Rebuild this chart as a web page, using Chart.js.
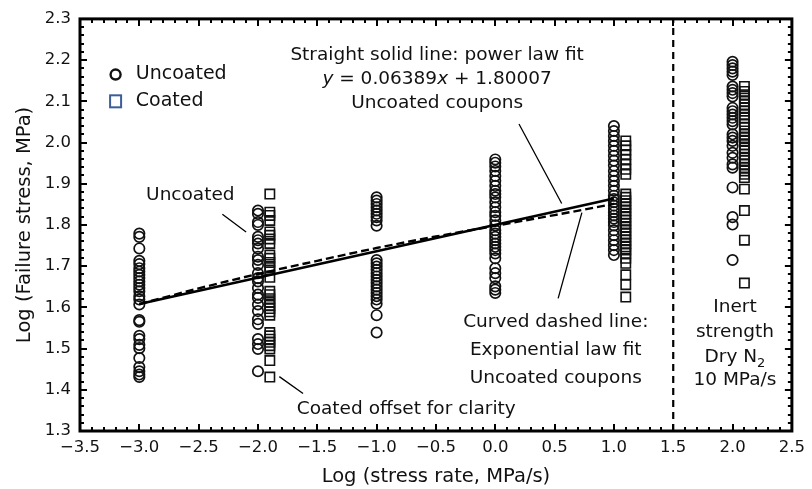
<!DOCTYPE html>
<html><head><meta charset="utf-8">
<script src="https://cdn.jsdelivr.net/npm/chart.js@4.4.0/dist/chart.umd.min.js"></script>
<style>html,body{margin:0;padding:0;background:#fff}canvas{display:block}</style>
</head><body>
<canvas id="c" width="812" height="489"></canvas>
<script>
// ---------- DATA ----------
const seriesNames = ['Uncoated', 'Coated'];
const stressRates = [-3, -2, -1, 0, 1, 2];          // uncoated column positions (log stress rate)
const coatedRates = [-1.9, 1.1, 2.1];              // coated columns (offset for clarity)

const uncoatedAtM3 = [1.779, 1.771, 1.743, 1.713, 1.705, 1.695, 1.687, 1.679, 1.671, 1.663, 1.655, 1.647, 1.639, 1.627, 1.619, 1.607, 1.569, 1.565, 1.531, 1.523, 1.509, 1.501, 1.477, 1.455, 1.445, 1.437, 1.431];
const uncoatedAtM2 = [1.835, 1.827, 1.807, 1.800, 1.771, 1.763, 1.755, 1.743, 1.723, 1.715, 1.703, 1.683, 1.671, 1.663, 1.647, 1.631, 1.623, 1.607, 1.591, 1.571, 1.560, 1.523, 1.511, 1.499, 1.445];
const uncoatedAtM1 = [1.867, 1.859, 1.851, 1.843, 1.835, 1.827, 1.819, 1.811, 1.798, 1.715, 1.707, 1.699, 1.691, 1.683, 1.675, 1.667, 1.659, 1.651, 1.643, 1.635, 1.627, 1.619, 1.609, 1.581, 1.539];
const uncoatedAt0  = [1.959, 1.951, 1.942, 1.931, 1.919, 1.907, 1.895, 1.883, 1.875, 1.867, 1.855, 1.843, 1.831, 1.822, 1.811, 1.799, 1.787, 1.779, 1.771, 1.763, 1.755, 1.747, 1.739, 1.731, 1.719, 1.695, 1.683, 1.671, 1.651, 1.643, 1.635];
const uncoatedAtP1 = [2.040, 2.028, 2.016, 2.004, 1.992, 1.980, 1.968, 1.956, 1.944, 1.931, 1.919, 1.907, 1.895, 1.883, 1.871, 1.863, 1.855, 1.847, 1.839, 1.831, 1.823, 1.815, 1.807, 1.799, 1.787, 1.775, 1.763, 1.751, 1.739, 1.727];
const uncoatedInert = [2.196, 2.188, 2.180, 2.172, 2.164, 2.136, 2.128, 2.120, 2.112, 2.084, 2.076, 2.068, 2.060, 2.052, 2.044, 2.020, 2.012, 2.004, 1.992, 1.975, 1.963, 1.947, 1.939, 1.891, 1.819, 1.801, 1.715];

const coatedAtM2 = [1.875, 1.831, 1.823, 1.811, 1.783, 1.775, 1.766, 1.755, 1.727, 1.719, 1.709, 1.699, 1.691, 1.673, 1.639, 1.631, 1.621, 1.613, 1.605, 1.597, 1.589, 1.581, 1.539, 1.531, 1.523, 1.515, 1.507, 1.499, 1.471, 1.431];
const coatedAtP1 = [2.004, 1.992, 1.982, 1.971, 1.959, 1.947, 1.935, 1.923, 1.875, 1.867, 1.859, 1.851, 1.843, 1.835, 1.827, 1.819, 1.811, 1.803, 1.795, 1.787, 1.779, 1.771, 1.763, 1.755, 1.747, 1.739, 1.731, 1.719, 1.707, 1.679, 1.655, 1.625];
const coatedInert = [2.136, 2.124, 2.116, 2.108, 2.100, 2.092, 2.084, 2.076, 2.068, 2.060, 2.044, 2.036, 2.028, 2.020, 2.012, 2.004, 1.995, 1.987, 1.980, 1.971, 1.963, 1.956, 1.947, 1.939, 1.931, 1.923, 1.915, 1.887, 1.835, 1.763, 1.659];

const uncoatedGroups = [uncoatedAtM3, uncoatedAtM2, uncoatedAtM1, uncoatedAt0, uncoatedAtP1, uncoatedInert];
const coatedGroups = [coatedAtM2, coatedAtP1, coatedInert];

// power-law fit (straight solid line) end points
const powerFitX = [-3, 1];
const powerFitY = [1.608, 1.864];
// exponential-law fit (curved dashed line)
const expFitX = [-3, -2.5, -2, -1.5, -1, -0.5, 0, 0.5, 1];
const expFitY = [1.608, 1.646, 1.681, 1.713, 1.744, 1.772, 1.798, 1.824, 1.851];
// inert-strength separator
const separatorX = [1.5, 1.5];
const separatorY = [1.3, 2.3];

const xTickLabels = ['\u22123.5', '\u22123.0', '\u22122.5', '\u22122.0', '\u22121.5', '\u22121.0', '\u22120.5', '0.0', '0.5', '1.0', '1.5', '2.0', '2.5'];
const yTickLabels = ['1.3', '1.4', '1.5', '1.6', '1.7', '1.8', '1.9', '2.0', '2.1', '2.2', '2.3'];
const xTitle = 'Log (stress rate, MPa/s)';
const yTitle = 'Log (Failure stress, MPa)';

// ---------- BUILD ----------
const uncoatedPts = [];
uncoatedGroups.forEach((g, i) => g.forEach(v => uncoatedPts.push({x: stressRates[i], y: v})));
const coatedPts = [];
coatedGroups.forEach((g, i) => g.forEach(v => coatedPts.push({x: coatedRates[i], y: v})));
const zip = (xs, ys) => xs.map((x, i) => ({x, y: ys[i]}));

const FONT = '"DejaVu Sans", "Liberation Sans", sans-serif';

const annotations = {
  texts: [
    {x: -0.49, y: 2.211, t: 'Straight solid line: power law fit'},
    {x: -0.49, y: 2.096, t: 'Uncoated coupons'},
    {x: 0.51, y: 1.565, t: 'Curved dashed line:'},
    {x: 0.51, y: 1.497, t: 'Exponential law fit'},
    {x: 0.51, y: 1.427, t: 'Uncoated coupons'},
    {x: 2.02, y: 1.601, t: 'Inert'},
    {x: 2.02, y: 1.540, t: 'strength'},
    {x: 2.02, y: 1.423, t: '10 MPa/s'},
    {x: -2.57, y: 1.872, t: 'Uncoated'},
    {x: -0.75, y: 1.353, t: 'Coated offset for clarity'}
  ],
  leaders: [
    [-2.30, 1.826, -2.10, 1.783],
    [-1.82, 1.432, -1.62, 1.391],
    [0.20, 2.045, 0.56, 1.852],
    [0.53, 1.622, 0.73, 1.830]
  ]
};

const decor = {
  id: 'decor',
  afterDatasetsDraw(chart) {
    const {ctx, chartArea: a, scales: {x, y}} = chart;
    ctx.save();
    // inward ticks
    ctx.strokeStyle = '#000';
    ctx.lineWidth = 2;
    ctx.beginPath();
    for (let i = 0; i <= 60; i++) {
      const px = Math.round(x.getPixelForValue(-3.5 + i * 0.1));
      const len = (i % 5 === 0) ? 7 : 4;
      ctx.moveTo(px, a.bottom); ctx.lineTo(px, a.bottom - len);
      ctx.moveTo(px, a.top); ctx.lineTo(px, a.top + len);
    }
    for (let i = 0; i <= 50; i++) {
      const py = Math.round(y.getPixelForValue(1.3 + i * 0.02));
      const len = (i % 5 === 0) ? 7 : 4;
      ctx.moveTo(a.left, py); ctx.lineTo(a.left + len, py);
      ctx.moveTo(a.right, py); ctx.lineTo(a.right - len, py);
    }
    ctx.stroke();
    ctx.lineWidth = 3;
    ctx.strokeRect(a.left, a.top, a.right - a.left, a.bottom - a.top);

    // leader lines
    ctx.lineWidth = 1.3;
    ctx.beginPath();
    annotations.leaders.forEach(l => {
      ctx.moveTo(x.getPixelForValue(l[0]), y.getPixelForValue(l[1]));
      ctx.lineTo(x.getPixelForValue(l[2]), y.getPixelForValue(l[3]));
    });
    ctx.stroke();

    // texts
    ctx.fillStyle = '#111';
    ctx.textAlign = 'center';
    ctx.textBaseline = 'middle';
    ctx.font = '18.5px ' + FONT;
    annotations.texts.forEach(o => ctx.fillText(o.t, x.getPixelForValue(o.x), y.getPixelForValue(o.y)));

    // equation with italic variables
    const segs = [['y', 'italic '], [' = 0.06389', ''], ['x', 'italic '], [' + 1.80007', '']];
    let total = 0;
    segs.forEach(s => { ctx.font = s[1] + '18.5px ' + FONT; s.w = ctx.measureText(s[0]).width; total += s.w; });
    let sx = x.getPixelForValue(-0.49) - total / 2;
    const ey = y.getPixelForValue(2.153);
    ctx.textAlign = 'left';
    segs.forEach(s => { ctx.font = s[1] + '18.5px ' + FONT; ctx.fillText(s[0], sx, ey); sx += s.w; });

    // Dry N2 with subscript
    ctx.font = '18.5px ' + FONT;
    const w1 = ctx.measureText('Dry N').width;
    ctx.font = '13px ' + FONT;
    const w2 = ctx.measureText('2').width;
    let dx = x.getPixelForValue(2.02) - (w1 + w2) / 2;
    const dy = y.getPixelForValue(1.480);
    ctx.font = '18.5px ' + FONT;
    ctx.fillText('Dry N', dx, dy);
    ctx.font = '13px ' + FONT;
    ctx.fillText('2', dx + w1, dy + 7);

    // legend
    const lx = x.getPixelForValue(-3.2);
    const ly1 = y.getPixelForValue(2.165);
    const ly2 = y.getPixelForValue(2.100);
    ctx.lineWidth = 2.4;
    ctx.strokeStyle = '#111';
    ctx.beginPath(); ctx.arc(lx, ly1, 5, 0, Math.PI * 2); ctx.stroke();
    ctx.strokeStyle = '#3b5e99';
    ctx.lineWidth = 2;
    ctx.strokeRect(lx - 5.5, ly2 - 6, 11, 12);
    ctx.font = '19px ' + FONT;
    ctx.fillStyle = '#111';
    ctx.fillText(seriesNames[0], x.getPixelForValue(-3.03), ly1);
    ctx.fillText(seriesNames[1], x.getPixelForValue(-3.03), ly2);
    ctx.restore();
  }
};

new Chart(document.getElementById('c'), {
  type: 'scatter',
  data: {
    datasets: [
      {label: 'Power law fit', type: 'line', data: zip(powerFitX, powerFitY), borderColor: '#000', borderWidth: 2.6, pointRadius: 0, fill: false, order: 0},
      {label: 'Exponential law fit', type: 'line', data: zip(expFitX, expFitY), borderColor: '#000', borderWidth: 2.4, borderDash: [8, 4], pointRadius: 0, tension: 0.4, cubicInterpolationMode: 'monotone', fill: false, order: 0},
      {label: 'Separator', type: 'line', data: zip(separatorX, separatorY), borderColor: '#000', borderWidth: 2.2, borderDash: [7, 5], pointRadius: 0, fill: false, order: 0},
      {label: seriesNames[0], data: uncoatedPts, pointStyle: 'circle', pointRadius: 5.2, borderWidth: 1.7, borderColor: '#111', backgroundColor: 'rgba(0,0,0,0)', order: 1},
      {label: seriesNames[1], data: coatedPts, pointStyle: 'rect', pointRadius: 6.6, borderWidth: 1.6, borderColor: '#111', backgroundColor: 'rgba(0,0,0,0)', order: 1}
    ]
  },
  options: {
    responsive: false,
    animation: false,
    devicePixelRatio: 1,
    layout: {padding: {top: 15, right: 15, left: 0, bottom: 0}},
    plugins: {legend: {display: false}, tooltip: {enabled: false}},
    scales: {
      x: {
        type: 'linear', min: -3.5, max: 2.5,
        grid: {display: false, drawTicks: false},
        border: {display: false},
        ticks: {stepSize: 0.5, padding: 7, color: '#111', font: {family: FONT, size: 16.5}, maxRotation: 0, autoSkip: false,
          callback: (v, i) => xTickLabels[i]},
        title: {display: true, text: xTitle, color: '#111', font: {family: FONT, size: 19.5}, padding: {top: 5, bottom: 0}},
        afterFit(s) { s.height = 58; }
      },
      y: {
        type: 'linear', min: 1.3, max: 2.3,
        grid: {display: false, drawTicks: false},
        border: {display: false},
        ticks: {stepSize: 0.1, padding: 9, color: '#111', font: {family: FONT, size: 16.5}, autoSkip: false,
          callback: (v, i) => yTickLabels[i]},
        title: {display: true, text: yTitle, color: '#111', font: {family: FONT, size: 19.5}, padding: {top: 13, bottom: 0}},
        afterFit(s) { s.width = 80; }
      }
    }
  },
  plugins: [decor]
});
</script>
</body></html>
